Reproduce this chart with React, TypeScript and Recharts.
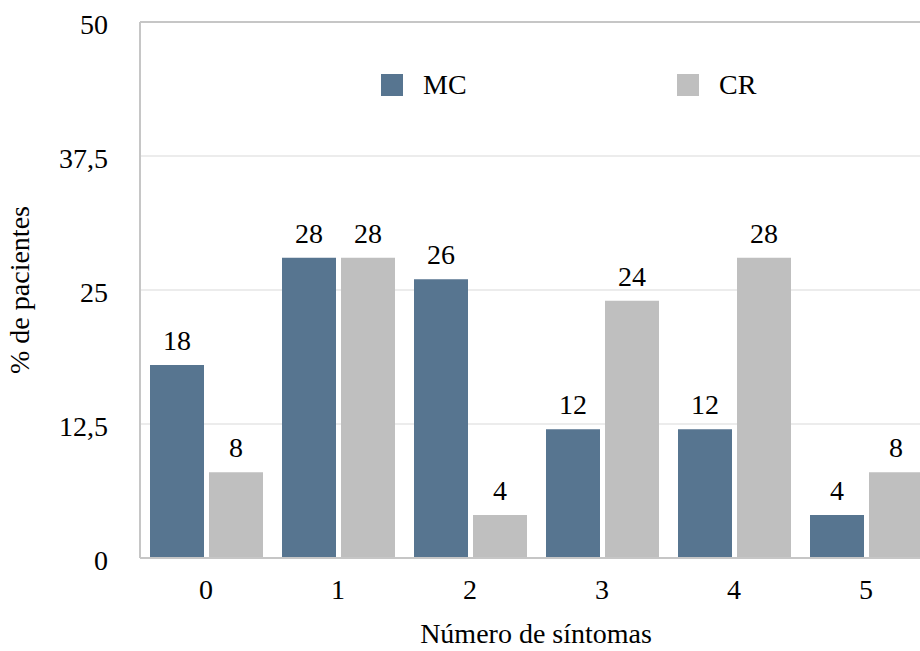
import { BarChart, Bar, XAxis, YAxis, CartesianGrid, LabelList, ReferenceLine } from 'recharts';

const categories = ['0', '1', '2', '3', '4', '5'];
const mcValues = [18, 28, 26, 12, 12, 4];
const crValues = [8, 28, 4, 24, 28, 8];
const yTicks = [0, 12.5, 25, 37.5, 50];

const MC_COLOR = '#577590';
const CR_COLOR = '#bfbfbf';
const AXIS_COLOR = '#c6c6c6';
const FONT = '"Liberation Serif", "Times New Roman", serif';

const data = categories.map((c, i) => ({ cat: c, MC: mcValues[i], CR: crValues[i] }));

const fmt = (v: number) => String(v).replace('.', ',');

// legend sits inside the plot area, so it is kept outside recharts' layout
function LegendBox() {
  const items = [
    { name: 'MC', color: MC_COLOR },
    { name: 'CR', color: CR_COLOR },
  ];
  return (
    <div
      style={{
        position: 'absolute',
        left: 381,
        top: 67,
        display: 'flex',
        fontFamily: FONT,
        fontSize: 28,
        lineHeight: '36px',
        color: '#000',
      }}
    >
      {items.map((it) => (
        <div key={it.name} style={{ width: 296, display: 'flex', alignItems: 'center' }}>
          <span style={{ width: 22, height: 22, background: it.color, display: 'inline-block', marginRight: 20 }} />
          <span>{it.name}</span>
        </div>
      ))}
    </div>
  );
}

export default function App() {
  return (
    <div style={{ position: 'fixed', left: 0, top: 0, width: 920, height: 651, overflow: 'hidden', background: '#fff' }}>
      <BarChart
        width={940}
        height={651}
        data={data}
        margin={{ top: 22, right: 8, bottom: 33, left: 0 }}
        barGap={5}
        barSize={54}
      >
        <CartesianGrid vertical={false} stroke="#d9d9d9" />
        <ReferenceLine y={50} stroke={AXIS_COLOR} strokeWidth={2} />
        <XAxis
          dataKey="cat"
          height={60}
          stroke={AXIS_COLOR}
          strokeWidth={2}
          tickLine={false}
          tickSize={0}
          tickMargin={21}
          tick={{ fill: '#000', fontSize: 28, fontFamily: FONT }}
          label={{
            content: ({ viewBox }: any) => (
              <text
                x={viewBox.x + viewBox.width / 2}
                y={643}
                textAnchor="middle"
                fontSize={28}
                fontFamily={FONT}
                fill="#000"
              >
                Número de síntomas
              </text>
            ),
          }}
        />
        <YAxis
          width={140}
          domain={[0, 50]}
          ticks={yTicks}
          stroke={AXIS_COLOR}
          strokeWidth={2}
          tickLine={false}
          tickSize={0}
          tickMargin={32}
          tickFormatter={fmt}
          tick={{ fill: '#000', fontSize: 28, fontFamily: FONT, dy: 2 }}
          label={{
            content: ({ viewBox }: any) => {
              const cy = viewBox.y + viewBox.height / 2;
              return (
                <text
                  x={29}
                  y={cy}
                  transform={`rotate(-90, 29, ${cy})`}
                  textAnchor="middle"
                  fontSize={28}
                  fontFamily={FONT}
                  fill="#000"
                >
                  % de pacientes
                </text>
              );
            },
          }}
        />
        <Bar dataKey="MC" fill={MC_COLOR} isAnimationActive={false}>
          <LabelList dataKey="MC" position="top" offset={15} fill="#000" fontSize={28} fontFamily={FONT} />
        </Bar>
        <Bar dataKey="CR" fill={CR_COLOR} isAnimationActive={false}>
          <LabelList dataKey="CR" position="top" offset={15} fill="#000" fontSize={28} fontFamily={FONT} />
        </Bar>
      </BarChart>
      <LegendBox />
    </div>
  );
}
